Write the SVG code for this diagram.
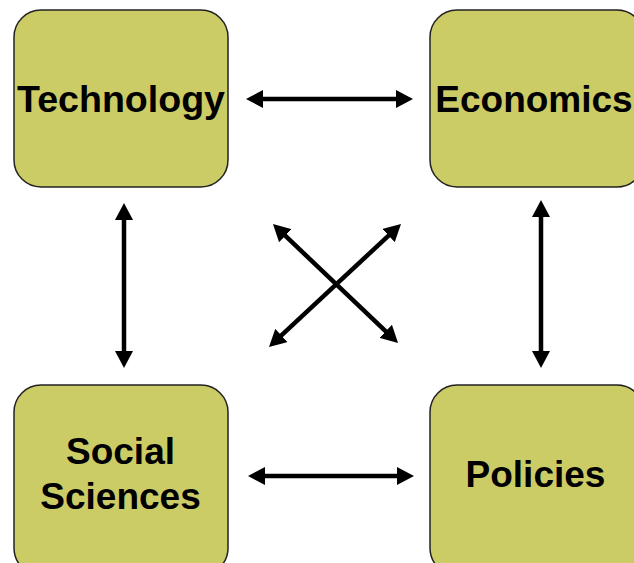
<svg xmlns="http://www.w3.org/2000/svg" width="634" height="563" viewBox="0 0 634 563">
<style>
.box{fill:#CCCC66;stroke:#222;stroke-width:1.5}
.lbl{font-family:"Liberation Sans",Arial,sans-serif;font-weight:bold;font-size:37px;fill:#000;text-anchor:middle}
.con{stroke:#000;stroke-width:4.5;fill:none;marker-start:url(#ah);marker-end:url(#ah)}
</style>
<defs>
<marker id="ah" markerUnits="userSpaceOnUse" markerWidth="17" markerHeight="18" refX="7" refY="9" orient="auto-start-reverse" viewBox="0 0 17 18">
<path d="M0,0 L17,9 L0,18 z" fill="#000"/>
</marker>
</defs>
<rect width="634" height="563" fill="#fff"/>
<g id="technology">
<rect class="box" x="14" y="10" width="214" height="177" rx="27" ry="27"/>
<text class="lbl" x="121" y="112" textLength="208" lengthAdjust="spacingAndGlyphs">Technology</text>
</g>
<g id="economics">
<rect class="box" x="430" y="10" width="214" height="177" rx="27" ry="27"/>
<text class="lbl" x="534" y="112">Economics</text>
</g>
<g id="social-sciences">
<rect class="box" x="14" y="385" width="214" height="190" rx="27" ry="27"/>
<text class="lbl" x="120.5" y="464">Social</text>
<text class="lbl" x="120.5" y="509">Sciences</text>
</g>
<g id="policies">
<rect class="box" x="430" y="385" width="214" height="190" rx="27" ry="27"/>
<text class="lbl" x="535.5" y="487">Policies</text>
</g>
<g id="connectors">
<line class="con" x1="256" y1="99" x2="403" y2="99"/>
<line class="con" x1="258" y1="476" x2="404" y2="476"/>
<line class="con" x1="124" y1="213" x2="124" y2="358"/>
<line class="con" x1="541" y1="210" x2="541" y2="358"/>
<line class="con" x1="280.2" y1="230.9" x2="390.8" y2="336.1"/>
<line class="con" x1="276.3" y1="340.2" x2="393.7" y2="230.8"/>
</g>
</svg>
